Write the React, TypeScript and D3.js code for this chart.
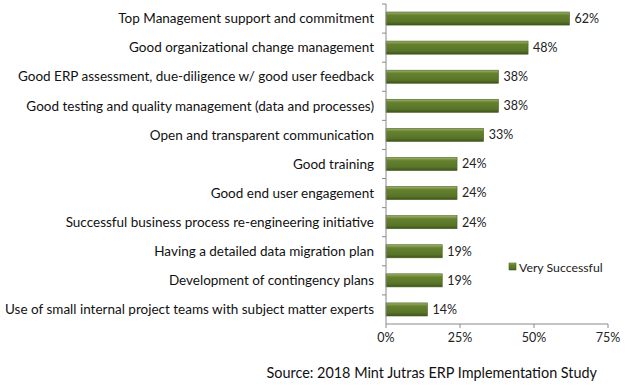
import { useEffect, useRef } from 'react';
import * as d3 from 'd3';

const categories = [
  'Top Management support and commitment',
  'Good organizational change management',
  'Good ERP assessment, due-diligence w/ good user feedback',
  'Good testing and quality management (data and processes)',
  'Open and transparent communication',
  'Good training',
  'Good end user engagement',
  'Successful business process re-engineering initiative',
  'Having a detailed data migration plan',
  'Development of contingency plans',
  'Use of small internal project teams with subject matter experts'
];
const values = [62, 48, 38, 38, 33, 24, 24, 24, 19, 19, 14];
const xTicks = [0, 25, 50, 75];
const seriesName = 'Very Successful';
const source = 'Source: 2018 Mint Jutras ERP Implementation Study';

const WIDTH = 625;
const HEIGHT = 389;
const FONT = 'Lato, "Open Sans", sans-serif';

export default function App() {
  const ref = useRef<SVGSVGElement | null>(null);

  useEffect(() => {
    const svg = d3.select(ref.current);
    svg.selectAll('*').remove();

    const left = 386;
    const right = 608;
    const top = 4;
    const bottom = 324;

    const x = d3.scaleLinear().domain([0, 75]).range([left, right]);
    const y = d3.scaleBand<string>().domain(categories).range([top, bottom]).paddingInner(0.55).paddingOuter(0.275);
    const band = d3.scaleBand<string>().domain(categories).range([top, bottom]);

    const defs = svg.append('defs');
    const grad = defs
      .append('linearGradient')
      .attr('id', 'barGrad')
      .attr('x1', 0)
      .attr('x2', 0)
      .attr('y1', 0)
      .attr('y2', 1);
    grad.append('stop').attr('offset', '0%').attr('stop-color', '#9db36a');
    grad.append('stop').attr('offset', '25%').attr('stop-color', '#65812f');
    grad.append('stop').attr('offset', '75%').attr('stop-color', '#587428');
    grad.append('stop').attr('offset', '100%').attr('stop-color', '#3e531b');

    // bars
    svg
      .append('g')
      .selectAll('rect')
      .data(values)
      .join('rect')
      .attr('x', x(0))
      .attr('y', (_, i) => y(categories[i]) ?? 0)
      .attr('width', (d) => x(d) - x(0))
      .attr('height', y.bandwidth())
      .attr('fill', 'url(#barGrad)')
      .attr('stroke', '#4a6320')
      .attr('stroke-width', 0.6);

    // value labels
    svg
      .append('g')
      .selectAll('text')
      .data(values)
      .join('text')
      .attr('x', (d) => x(d) + 5)
      .attr('y', (_, i) => (y(categories[i]) ?? 0) + y.bandwidth() / 2)
      .attr('dy', '0.35em')
      .attr('font-family', FONT)
      .attr('font-size', 12.5)
      .attr('fill', '#222')
      .text((d) => `${d}%`);

    // category labels
    svg
      .append('g')
      .selectAll('text')
      .data(categories)
      .join('text')
      .attr('x', left - 12)
      .attr('y', (d) => (y(d) ?? 0) + y.bandwidth() / 2)
      .attr('dy', '0.35em')
      .attr('text-anchor', 'end')
      .attr('font-family', FONT)
      .attr('font-size', 13.5)
      .attr('fill', '#111')
      .text((d) => d);

    // y axis
    const yAxis = svg.append('g').attr('stroke', '#8a8a8a').attr('stroke-width', 1);
    yAxis.append('line').attr('x1', left).attr('x2', left).attr('y1', top).attr('y2', bottom);
    yAxis
      .selectAll('line.tick')
      .data(categories)
      .join('line')
      .attr('class', 'tick')
      .attr('x1', left - 4)
      .attr('x2', left)
      .attr('y1', (d) => band(d) ?? 0)
      .attr('y2', (d) => band(d) ?? 0);

    // x axis
    const xAxis = svg.append('g');
    xAxis
      .append('line')
      .attr('x1', left)
      .attr('x2', right)
      .attr('y1', bottom)
      .attr('y2', bottom)
      .attr('stroke', '#8a8a8a');
    xAxis
      .selectAll('line.tick')
      .data(xTicks)
      .join('line')
      .attr('class', 'tick')
      .attr('x1', (d) => x(d))
      .attr('x2', (d) => x(d))
      .attr('y1', bottom)
      .attr('y2', bottom + 4)
      .attr('stroke', '#8a8a8a');
    xAxis
      .selectAll('text')
      .data(xTicks)
      .join('text')
      .attr('x', (d) => x(d))
      .attr('y', bottom + 18)
      .attr('text-anchor', 'middle')
      .attr('font-family', FONT)
      .attr('font-size', 12.5)
      .attr('fill', '#222')
      .text((d) => `${d}%`);

    // legend
    const legend = svg.append('g').attr('transform', 'translate(509, 268)');
    legend
      .append('rect')
      .attr('x', 0)
      .attr('y', -5)
      .attr('width', 7)
      .attr('height', 7)
      .attr('fill', 'url(#barGrad)')
      .attr('stroke', '#4a6320')
      .attr('stroke-width', 0.6);
    legend
      .append('text')
      .attr('x', 10)
      .attr('y', 0)
      .attr('dy', '0.3em')
      .attr('font-family', FONT)
      .attr('font-size', 12.3)
      .attr('fill', '#222')
      .text(seriesName);

    // source
    svg
      .append('text')
      .attr('x', 597)
      .attr('y', 378)
      .attr('text-anchor', 'end')
      .attr('font-family', FONT)
      .attr('font-size', 14.4)
      .attr('fill', '#111')
      .text(source);
  }, []);

  return (
    <svg
      ref={ref}
      width={WIDTH}
      height={HEIGHT}
      style={{ position: 'absolute', left: 0, top: 0, background: '#fff' }}
    />
  );
}
